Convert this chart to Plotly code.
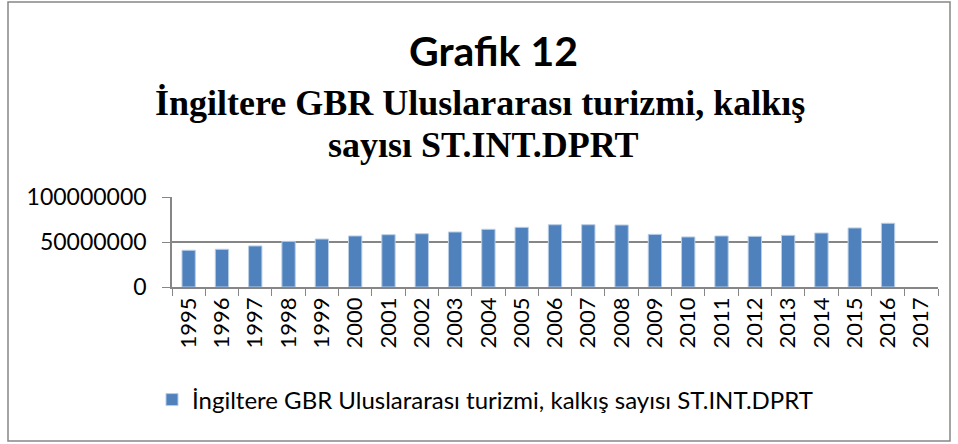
import plotly.graph_objects as go

# --------------------------------------------------
# Data
# --------------------------------------------------

years = [str(y) for y in range(1995, 2018)]

departures = [
    40.8e6, 41.9e6, 45.6e6, 50.7e6, 53.3e6, 56.7e6, 58.1e6, 59.2e6,
    61.1e6, 64.1e6, 66.3e6, 69.2e6, 69.2e6, 68.9e6, 58.5e6, 55.6e6,
    56.7e6, 56.3e6, 57.4e6, 60.0e6, 65.6e6, 70.8e6, None,
]

series_name = "İngiltere GBR Uluslararası turizmi, kalkış sayısı ST.INT.DPRT"
y_ticks = [0, 50000000, 100000000]

# --------------------------------------------------
# Layout helpers (plot area in pixels)
# --------------------------------------------------

W, H = 958, 444
PL, PR, PT, PB = 172, 938, 197, 287
pw, ph = PR - PL, PB - PT


def px_x(x):
    return (x - PL) / pw


def px_y(y):
    return (PB - y) / ph


grey = "#868686"

fig = go.Figure()

fig.add_trace(
    go.Bar(
        x=years,
        y=departures,
        name=series_name,
        marker=dict(color="#4F81BD", line=dict(color="#B9CDE5", width=1)),
        showlegend=True,
    )
)

fig.update_layout(
    width=W,
    height=H,
    margin=dict(l=PL, r=W - PR, t=PT, b=H - PB),
    paper_bgcolor="white",
    plot_bgcolor="white",
    bargap=0.6,
    font=dict(family="Lato", size=23, color="black"),
    showlegend=True,
    legend=dict(
        orientation="h",
        x=px_x(152),
        y=px_y(400),
        xanchor="left",
        yanchor="middle",
        font=dict(family="Lato", size=24),
        itemwidth=30,
    ),
    xaxis=dict(
        type="category",
        tickangle=-90,
        ticks="outside",
        tickson="boundaries",
        ticklen=7,
        tickcolor=grey,
        showline=True,
        linecolor=grey,
        linewidth=1.5,
        showgrid=False,
        tickfont=dict(family="Lato", size=22),
    ),
    yaxis=dict(
        range=[0, 100000000],
        tickvals=y_ticks,
        tickformat="d",
        ticks="outside",
        ticklen=8,
        tickcolor=grey,
        ticklabelstandoff=11,
        showline=True,
        linecolor=grey,
        linewidth=1.5,
        showgrid=True,
        gridcolor=grey,
        gridwidth=1.5,
        zeroline=False,
        tickfont=dict(family="Lato", size=23),
    ),
)

# Titles
title_lines = [
    ("<b>Grafik 12</b>", 493, 50, "Lato", 41),
    ("<b>İngiltere GBR Uluslararası turizmi, kalkış</b>", 480, 103, "Liberation Serif", 36),
    ("<b>sayısı ST.INT.DPRT</b>", 483, 145, "Liberation Serif", 36),
]
for text, cx, cy, family, size in title_lines:
    fig.add_annotation(
        text=text,
        x=px_x(cx), y=px_y(cy), xref="paper", yref="paper",
        xanchor="center", yanchor="middle",
        showarrow=False, font=dict(family=family, size=size, color="black"),
    )

# Outer chart border
fig.add_shape(
    type="rect", xref="paper", yref="paper",
    x0=px_x(8), x1=px_x(950), y0=px_y(441), y1=px_y(2),
    line=dict(color=grey, width=1.5),
)

fig.write_html(
    "out.html",
    config={"displayModeBar": False},
    post_script="document.body.style.margin = '0';",
)
